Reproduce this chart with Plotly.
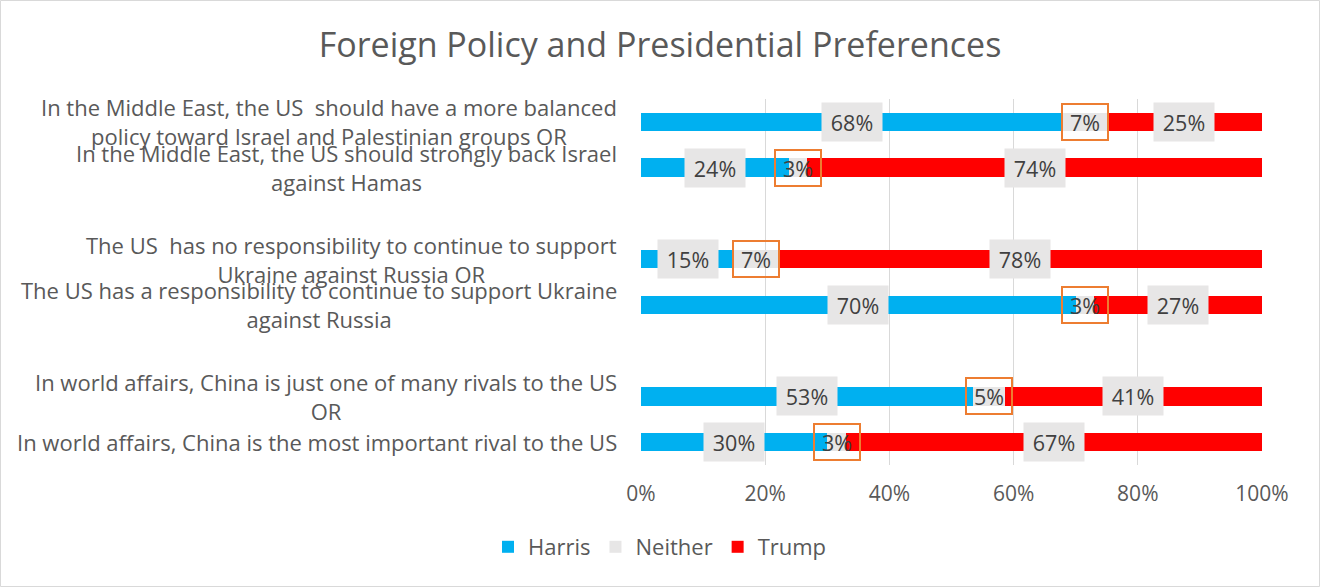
import plotly.graph_objects as go

categories = [
    "In the Middle East, the US  should have a more balanced<br>policy toward Israel and Palestinian groups OR",
    "In the Middle East, the US should strongly back Israel<br>against Hamas",
    "The US  has no responsibility to continue to support<br>Ukraine against Russia OR",
    "The US has a responsibility to continue to support Ukraine<br>against Russia",
    "In world affairs, China is just one of many rivals to the US<br>OR",
    "In world affairs, China is the most important rival to the US",
]
row_pos = [0, 1, 3, 4, 6, 7]
harris = [68, 24, 15, 70, 53, 30]
neither = [7, 3, 7, 3, 5, 3]
trump = [25, 74, 78, 27, 41, 67]

series = [("Harris", harris, "#00B0F0"), ("Neither", neither, "#E7E6E6"), ("Trump", trump, "#FF0000")]

FONT = "Open Sans"
TXT = "#595959"

fig = go.Figure()
for name, vals, col in series:
    fig.add_trace(go.Bar(
        name=name, y=row_pos, x=vals, orientation="h",
        marker=dict(color=col, line=dict(width=0)), width=0.4,
    ))

annotations = []
for i, yp in enumerate(row_pos):
    tot = harris[i] + neither[i] + trump[i]
    cum = 0
    for name, vals, col in series:
        v = vals[i]
        center = (cum + v / 2) / tot * 100
        cum += v
        if name == "Neither":
            annotations.append(dict(
                x=center, y=yp, xref="x", yref="y", text=f"{v}%", showarrow=False,
                font=dict(size=21.5, color="#404040", family=FONT),
                bgcolor="rgba(0,0,0,0)", bordercolor="#ED7D31", borderwidth=2,
                width=44, height=34, borderpad=0,
            ))
        else:
            annotations.append(dict(
                x=center, y=yp, xref="x", yref="y", text=f"{v}%", showarrow=False,
                font=dict(size=21.5, color="#404040", family=FONT),
                bgcolor="#E7E6E6", width=60, height=38, borderpad=0,
            ))
    annotations.append(dict(
        x=0, y=yp, xref="paper", yref="y", text=categories[i], showarrow=False,
        xanchor="right", yanchor="middle", align="center", xshift=-22,
        font=dict(size=22, color=TXT, family=FONT),
    ))

L, R, T, B = 641, 58, 99, 122
pw, ph = 1320 - L - R, 587 - T - B

fig.update_layout(
    width=1320, height=587,
    margin=dict(l=L, r=R, t=T, b=B),
    barmode="stack", barnorm="percent",
    paper_bgcolor="white", plot_bgcolor="white",
    title=dict(text="Foreign Policy and Presidential Preferences", x=0.5, xanchor="center",
               y=1 - 45 / 587, yanchor="middle", font=dict(size=34, color=TXT, family=FONT)),
    xaxis=dict(range=[0, 100], dtick=20, ticksuffix="%", showgrid=True, gridcolor="#D9D9D9",
               gridwidth=1, zeroline=False, showline=False, ticks="", ticklabelstandoff=14,
               tickfont=dict(size=21, color=TXT, family=FONT)),
    yaxis=dict(range=[7.5, -0.5], showticklabels=False, showgrid=False, zeroline=False),
    legend=dict(orientation="h", xref="container", yref="container", x=0.5, xanchor="center",
                y=1 - 547 / 587, yanchor="middle", font=dict(size=22, color=TXT, family=FONT),
                traceorder="normal", itemwidth=30),
    annotations=annotations,
    shapes=[dict(type="rect", xref="paper", yref="paper",
                 x0=(0.5 - L) / pw, x1=(1319.5 - L) / pw,
                 y0=(T + ph - 586.5) / ph, y1=(T + ph - 0.5) / ph,
                 line=dict(color="#D9D9D9", width=1))],
)

fig.write_html("out.html", config={"displayModeBar": False},
               post_script="document.body.style.margin='0';document.body.style.overflow='hidden';")
